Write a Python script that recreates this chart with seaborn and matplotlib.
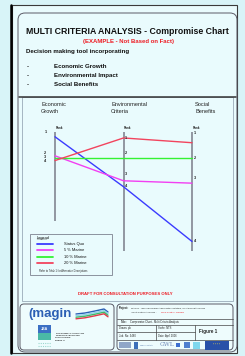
import numpy as np
import pandas as pd
import matplotlib
matplotlib.use('Agg')
import matplotlib.pyplot as plt
from matplotlib.patches import Rectangle, FancyBboxPatch
import seaborn as sns

# data (score scale: 100 = top of axis)
criteria = ['Economic\nGrowth', 'Environmental\nCriteria', 'Social\nBenefits']
alternatives = ['Status Quo', '5 % Marine', '10 % Marine', '20 % Marine']
status_quo = [96, 54, 8]
marine_5 = [80, 59, 57]
marine_10 = [78, 78, 78]
marine_20 = [76, 95, 91]
rank_labels = ['1', '2', '3', '4']
econ_rank_at = [100, 82, 79, 76]
env_rank_at = [95, 82, 65, 55]
soc_rank_at = [99, 78, 61, 8]
line_colors = ['#3b3bff', '#f23ff2', '#33f233', '#f2445e']

sns.set_theme(style='white')
plt.rcParams['font.family'] = ['Liberation Sans', 'DejaVu Sans']

W, H = 245, 356
fig = plt.figure(figsize=(W / 100, H / 100), dpi=100)
fig.patch.set_facecolor('#d8f4f8')

# background axes in pixel units for the drawing sheet
bg = fig.add_axes([0, 0, 1, 1])
bg.set_xlim(0, W)
bg.set_ylim(H, 0)
bg.axis('off')

bg.add_patch(Rectangle((12, 5), 225, 348, facecolor='#e9fbfd', edgecolor='#3a3a3a', lw=0.8))
bg.plot([11, 11], [5, 353], color='black', lw=1.8)
bg.add_patch(FancyBboxPatch((18, 13), 219, 339, boxstyle='round,pad=0,rounding_size=7',
                            facecolor='none', edgecolor='#5a5a66', lw=0.7))
bg.plot([19, 236], [96.5, 96.5], color='#333333', lw=1.1)
bg.add_patch(Rectangle((22, 97), 211, 204, facecolor='none', edgecolor='#8a9aaa', lw=0.5))

# header
bg.text(26, 31, 'MULTI CRITERIA ANALYSIS - Compromise Chart', fontsize=6.3,
        fontweight='bold', va='center', color='#111111')
bg.text(128, 42, '(EXAMPLE - Not Based on Fact)', fontsize=4.3, fontweight='bold',
        va='center', ha='center', color='#ee1c24')
bg.text(26, 51, 'Decision making tool incorporating', fontsize=4.4, fontweight='bold',
        va='center', color='#111111')
for yy, txt in zip([67, 76, 85], ['Economic Growth', 'Environmental Impact', 'Social Benefits']):
    bg.text(27, yy, '-', fontsize=4.4, fontweight='bold', va='center')
    bg.text(54, yy, txt, fontsize=4.4, fontweight='bold', va='center', color='#111111')

# chart axes
ax = fig.add_axes([35 / W, 1 - 255 / H, (212 - 35) / W, 130 / H])
ax.set_xlim((35 - 55) / 68.5, (212 - 55) / 68.5)
ax.set_ylim(-3.4, 105.9)
ax.axis('off')
ax.patch.set_alpha(0)

bottoms = [25, 0, 0]
for i in range(3):
    ax.vlines(i, bottoms[i], 100, color='#8a8f9a', lw=1.3, zorder=1)
    ax.text(i + 0.01, 102, 'Rank', fontsize=2.2, fontweight='bold', va='bottom', ha='left')

df = pd.DataFrame({
    'pos': np.tile(np.arange(3), 4),
    'score': status_quo + marine_5 + marine_10 + marine_20,
    'alt': np.repeat(alternatives, 3),
})
sns.lineplot(data=df, x='pos', y='score', hue='alt', palette=line_colors, sort=False,
             legend=False, ax=ax, lw=1.0, zorder=3)
ax.axis('off')

for lab, y in zip(rank_labels, econ_rank_at):
    ax.text(-0.14, y, lab, fontsize=2.8, fontweight='bold', ha='center', va='center')
for lab, y in zip(rank_labels, env_rank_at):
    ax.text(1.04, y, lab, fontsize=2.8, fontweight='bold', ha='center', va='center')
for lab, y in zip(rank_labels, soc_rank_at):
    ax.text(2.04, y, lab, fontsize=2.8, fontweight='bold', ha='center', va='center')

for xx, name in zip([41, 111, 195], criteria):
    bg.text(xx, 102, name, fontsize=4.1, va='top', ha='left', linespacing=1.45, color='#222222')

# legend box
bg.add_patch(Rectangle((30, 234), 82, 41, facecolor='none', edgecolor='#7d8290', lw=0.6))
bg.text(37, 237.5, 'Legend', fontsize=2.8, va='center', color='#111111')
bg.plot([37, 47], [239.3, 239.3], color='#111111', lw=0.3)
for k, (name, col) in enumerate(zip(alternatives, line_colors)):
    yy = 243.5 + k * 6.5
    bg.plot([37, 53], [yy, yy], color=col, lw=1.3)
    bg.text(64, yy, name, fontsize=2.9, va='center', color='#111111')
bg.text(39, 271, 'Refer to Table 1 for Alternative Descriptions', fontsize=1.8, va='center')

bg.text(125, 294, 'DRAFT FOR CONSULTATION PURPOSES ONLY', fontsize=3.1, fontweight='bold',
        ha='center', va='center', color='#ee1c24')

# title block - left (logos)
bg.add_patch(FancyBboxPatch((20, 304), 94, 46, boxstyle='round,pad=0,rounding_size=4',
                            facecolor='#eefcfd', edgecolor='#5a5a66', lw=0.7))
bg.text(28, 314, '(magin', fontsize=9.5, fontweight='bold', color='#2b5fb4', va='center')
for dy, col in zip([0, 1.6, 3.2, 4.8], ['#2b5fb4', '#8fd0ea', '#3dbb6a', '#e03a4a']):
    bg.plot([76, 85, 95, 104, 108], [314 + dy, 313 + dy, 311 + dy, 309 + dy, 312 + dy],
            color=col, lw=1.0)
bg.add_patch(Rectangle((38, 325), 13, 8, facecolor='#3a6fc4', edgecolor='none'))
bg.text(44.5, 329, 'JBA', fontsize=2.6, fontweight='bold', color='white', ha='center', va='center')
bg.add_patch(Rectangle((38, 333), 13, 7, facecolor='#4ab9a6', edgecolor='none'))
for yy in [343, 346]:
    bg.plot([38, 51], [yy, yy], color='#9bd7ce', lw=0.8, ls=(0, (1, 1)))
for k, t in enumerate(['JACK BARNETT & ASSOCIATES', 'T. KINNEAR BARNETT ENG',
                       'SOUTH GAMBLE', 'DUBLIN 14']):
    bg.text(55, 333 + k * 2.4, t, fontsize=1.4, fontweight='bold', va='center', color='#333333')

# title block - right (drawing info)
bg.add_patch(FancyBboxPatch((117, 304), 116, 46, boxstyle='round,pad=0,rounding_size=4',
                            facecolor='#eefcfd', edgecolor='#5a5a66', lw=0.7))
for yy in [319, 325, 340]:
    bg.plot([117, 233], [yy, yy], color='#444444', lw=0.5)
bg.plot([117, 195], [332, 332], color='#444444', lw=0.5)
bg.plot([156, 156], [325, 340], color='#444444', lw=0.5)
bg.plot([195, 195], [325, 340], color='#444444', lw=0.5)
bg.text(118.5, 308, 'Project:', fontsize=2.0, fontweight='bold', va='center')
bg.text(131, 308, 'MAGIN - Irish Sea Marine Aggregates Initiative, Cost Benefit Analysis',
        fontsize=1.75, va='center', color='#222222')
bg.text(131, 312.5, '/ Multi Criteria Analysis - ', fontsize=1.75, va='center', color='#222222')
bg.text(161, 312.5, 'Final Draft for Review', fontsize=1.75, va='center', color='#ee1c24')
bg.text(121, 322.3, 'Title:', fontsize=1.9, fontweight='bold', va='center')
bg.text(130, 322.3, 'Compromise Chart - Multi Criteria Analysis', fontsize=1.9, va='center')
bg.text(119, 328.3, 'Drawn: pb', fontsize=1.9, va='center')
bg.text(158, 328.3, 'Scale: NTS', fontsize=1.9, va='center')
bg.text(119, 336, 'Job. No: 3480', fontsize=1.9, va='center')
bg.text(158, 336, 'Date: April 2006', fontsize=1.9, va='center')
bg.text(199, 331, 'Figure 1', fontsize=3.3, fontweight='bold', va='center')

# partner logos strip
bg.add_patch(Rectangle((119, 342), 12, 6, facecolor='#8fa6c8', edgecolor='none'))
bg.add_patch(Rectangle((134, 341.5), 4, 7, facecolor='#3d6fb8', edgecolor='none'))
bg.text(140, 345, 'Marine Institute', fontsize=1.4, color='#5577aa', va='center')
bg.text(160, 345, 'GWL', fontsize=4.2, family='DejaVu Serif', color='#6f88b8', va='center')
bg.add_patch(Rectangle((176, 343), 4, 4, facecolor='#3d6fd0', edgecolor='none'))
bg.add_patch(Rectangle((184, 342), 6, 6, facecolor='#4f7fcf', edgecolor='none'))
bg.add_patch(Rectangle((193, 342), 7, 7, facecolor='#7fd8ee', edgecolor='none'))
bg.add_patch(Rectangle((205, 341), 24, 9, facecolor='#2950a8', edgecolor='none'))
bg.text(217, 345.5, '* * * *', fontsize=2.2, color='#e8d64a', ha='center', va='center')

fig.savefig('out.png', dpi=100, facecolor=fig.get_facecolor())
